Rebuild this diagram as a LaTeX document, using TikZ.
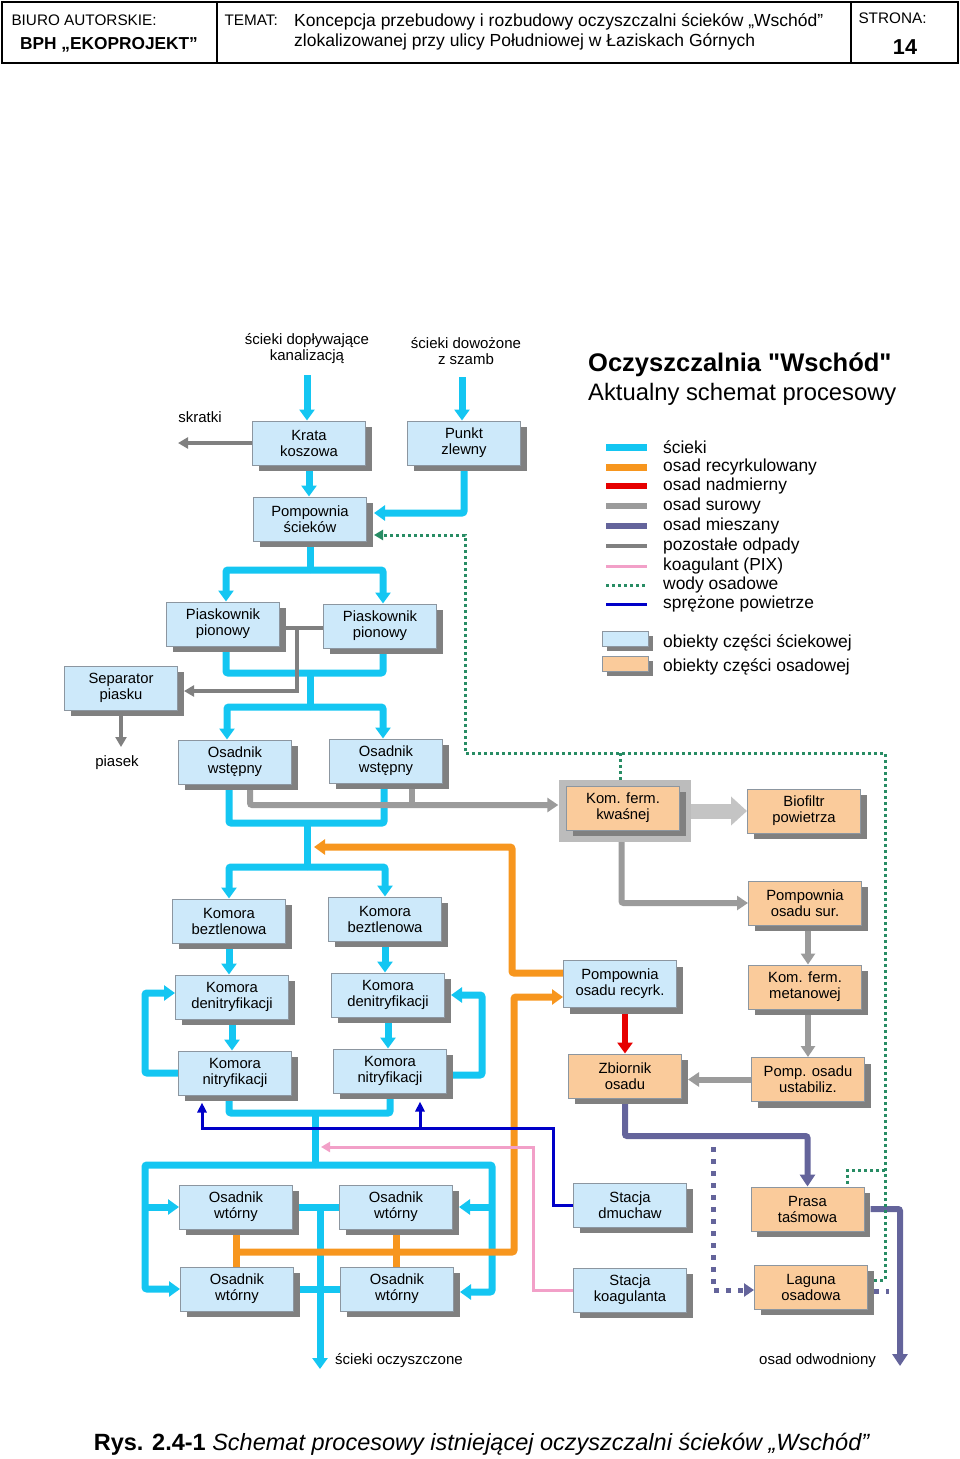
\documentclass[tikz,border=0pt]{standalone}
\usepackage{fontspec}
\setmainfont{Liberation Sans}[Ligatures=TeXOff]
\usetikzlibrary{arrows.meta,shadows,calc}

\definecolor{cflow}{RGB}{20,198,242}
\definecolor{oflow}{RGB}{247,150,30}
\definecolor{rflow}{RGB}{230,0,0}
\definecolor{gflow}{RGB}{155,155,155}
\definecolor{pflow}{RGB}{100,100,155}
\definecolor{tflow}{RGB}{128,128,128}
\definecolor{kflow}{RGB}{242,160,200}
\definecolor{wflow}{RGB}{40,140,100}
\definecolor{bflow}{RGB}{0,0,200}
\definecolor{sfill}{RGB}{205,233,250}
\definecolor{ofill}{RGB}{250,203,155}
\definecolor{shgrey}{RGB}{128,128,128}
\definecolor{edgegrey}{RGB}{140,150,160}
\definecolor{framegrey}{RGB}{188,188,188}
\definecolor{bigarrow}{RGB}{196,196,196}

\newcommand\objfont{\fontsize{14.8}{16}\selectfont}
\newcommand\lblfont{\fontsize{15}{16}\selectfont}
\newcommand\legfont{\fontsize{17.4}{20}\selectfont}

\pgfdeclarelayer{bg}
\pgfsetlayers{bg,main}

\tikzset{
  box/.style={draw=edgegrey, line width=1pt, align=center, font=\objfont, inner sep=1pt},
  shad/.style={drop shadow={shadow xshift=#1, shadow yshift=-#1, fill=shgrey, opacity=1}},
  shad/.default=6pt,
  sobj/.style={box, fill=sfill, minimum width=113pt, minimum height=44pt, shad},
  oobj/.style={box, fill=ofill, minimum width=113pt, minimum height=44pt, shad},
  lbl/.style={font=\lblfont, align=center, inner sep=0pt},
  sline/.style={line width=7pt, color=cflow, rounded corners=2pt},
  sarr/.style={sline, -{Triangle[width=15pt,length=11pt]}},
  oline/.style={line width=7pt, color=oflow, rounded corners=2pt},
  oarr/.style={oline, -{Triangle[width=15pt,length=11pt]}},
  rline/.style={line width=6pt, color=rflow},
  rarr/.style={rline, -{Triangle[width=15pt,length=11pt]}},
  gline/.style={line width=6pt, color=gflow, rounded corners=2pt},
  garr/.style={gline, -{Triangle[width=14pt,length=11pt]}},
  pline/.style={line width=6pt, color=pflow, rounded corners=2pt},
  parr/.style={pline, -{Triangle[width=15pt,length=12pt]}},
  pdot/.style={line width=5pt, color=pflow, dash pattern=on 5pt off 7pt},
  pdarr/.style={pdot, -{Triangle[width=13pt,length=10pt]}},
  tline/.style={line width=3.5pt, color=tflow},
  tarr/.style={tline, -{Triangle[width=11pt,length=10pt]}},
  kline/.style={line width=3pt, color=kflow},
  karr/.style={kline, -{Triangle[width=10pt,length=9pt]}},
  wline/.style={line width=3pt, color=wflow, dash pattern=on 3pt off 3pt},
  warr/.style={wline, -{Triangle[width=10pt,length=9pt]}},
  bline/.style={line width=3pt, color=bflow},
  barr/.style={bline, -{Triangle[width=9pt,length=10pt]}},
  bigarr/.style={line width=15pt, color=bigarrow, -{Triangle[width=28pt,length=16pt]}},
}

\begin{document}
\begin{tikzpicture}[x=1pt,y=-1pt]
\useasboundingbox (0,0) rectangle (960,1459);

% header
\draw[line width=1.5pt] (2,2) rectangle (958,63);
\draw[line width=1.5pt] (217,2) -- (217,63);
\draw[line width=1.5pt] (851,2) -- (851,63);
\node (hbiuro) [anchor=west, font=\fontsize{15.3}{16}\selectfont] at (8,20) {BIURO AUTORSKIE:};
\node (hbph) [font=\fontsize{17.3}{18}\selectfont\bfseries] at (109,45) {BPH „EKOPROJEKT”};
\node (htemat) [anchor=west, font=\fontsize{15.3}{16}\selectfont] at (221,20) {TEMAT:};
\node (htyt) [anchor=north west, align=left, inner sep=0pt, font=\fontsize{17.5}{20}\selectfont] at (294,13)
  {Koncepcja przebudowy i rozbudowy oczyszczalni ścieków „Wschód”\\zlokalizowanej przy ulicy Południowej w Łaziskach Górnych};
\node (hstrona) [anchor=west, font=\fontsize{15.3}{16}\selectfont] at (855,18) {STRONA:};
\node (hnr) [font=\fontsize{21.6}{22}\selectfont\bfseries] at (905,47) {14};

% legenda
\node (tyt1) [anchor=west, inner sep=0pt, font=\fontsize{25.5}{28}\selectfont\bfseries] at (588,365) {Oczyszczalnia "Wschód"};
\node (tyt2) [anchor=west, inner sep=0pt, font=\fontsize{23.8}{26}\selectfont] at (588,394) {Aktualny schemat procesowy};
\foreach \y/\st/\t in {447/sline/ścieki, 467/oline/osad recyrkulowany, 486/rline/osad nadmierny,
    506/gline/osad surowy, 526/pline/osad mieszany, 546/tline/pozostałe odpady,
    566/kline/koagulant (PIX), 585/wline/wody osadowe, 604/bline/sprężone powietrze}{
  \draw[\st] (606,\y) -- (647,\y);
  \node (leg\y) [anchor=west, inner sep=0pt, font=\legfont] at (663,\y) {\t};
}
\node (legs) [box, fill=sfill, minimum width=46pt, minimum height=15pt, shad=4pt] at (625.5,639) {};
\node (lego) [box, fill=ofill, minimum width=46pt, minimum height=15pt, shad=4pt] at (625.5,664) {};
\node (legst) [anchor=west, inner sep=0pt, font=\legfont] at (663,643) {obiekty części ściekowej};
\node (legot) [anchor=west, inner sep=0pt, font=\legfont] at (663,667) {obiekty części osadowej};

% obiekty
\node (krata) [sobj] at (309,443) {Krata\\koszowa};
\node (punkt) [sobj] at (464,443) {Punkt\\zlewny};
\node (pomp) [sobj] at (310,519) {Pompownia\\ścieków};
\node (piaskL) [sobj] at (223,624) {Piaskownik\\pionowy};
\node (piaskR) [sobj] at (380,626) {Piaskownik\\pionowy};
\node (sep) [sobj] at (121,688) {Separator\\piasku};
\node (wstL) [sobj] at (235,762) {Osadnik\\wstępny};
\node (wstR) [sobj] at (386,761) {Osadnik\\wstępny};
\node (beztL) [sobj] at (229,921) {Komora\\beztlenowa};
\node (beztR) [sobj] at (385,919) {Komora\\beztlenowa};
\node (denL) [sobj] at (232,997) {Komora\\denitryfikacji};
\node (denR) [sobj] at (388,995) {Komora\\denitryfikacji};
\node (nitL) [sobj] at (235,1073) {Komora\\nitryfikacji};
\node (nitR) [sobj] at (390,1071) {Komora\\nitryfikacji};
\node (wtUL) [sobj] at (236,1207) {Osadnik\\wtórny};
\node (wtUR) [sobj] at (396,1207) {Osadnik\\wtórny};
\node (wtLL) [sobj] at (237,1289) {Osadnik\\wtórny};
\node (wtLR) [sobj] at (397,1289) {Osadnik\\wtórny};
\node (recyrk) [sobj, minimum height=47pt] at (620,984) {Pompownia\\osadu recyrk.};
\node (dmuch) [sobj] at (630,1205) {Stacja\\dmuchaw};
\node (koag) [sobj] at (630,1290) {Stacja\\koagulanta};
\node (kwasfr) [fill=framegrey, minimum width=132pt, minimum height=62pt] at (624.5,811) {};
\node (kwas) [oobj] at (623,808) {Kom. ferm.\\kwaśnej};
\node (biof) [oobj] at (804,811) {Biofiltr\\powietrza};
\node (sur) [oobj] at (805,903) {Pompownia\\osadu sur.};
\node (metan) [oobj] at (805,987) {Kom. ferm.\\metanowej};
\node (zbior) [oobj] at (625,1076) {Zbiornik\\osadu};
\node (ustab) [oobj] at (808,1079.5) {Pomp. osadu\\ustabiliz.};
\node (prasa) [oobj] at (807.5,1209) {Prasa\\taśmowa};
\node (laguna) [oobj] at (811,1287) {Laguna\\osadowa};

% opisy
\node (lkan) [lbl] at (307,349) {ścieki dopływające\\kanalizacją};
\node (lszamb) [lbl] at (466,351) {ścieki dowożone\\z szamb};
\node (lskr) [lbl] at (200,417) {skratki};
\node (lpiasek) [lbl] at (117,763) {piasek};
\node (lout) [lbl, anchor=west] at (335,1361) {ścieki oczyszczone};
\node (lodw) [lbl, anchor=west] at (759,1361) {osad odwodniony};
\node (cap) at (482,1444) {\fontsize{23.5}{26}\selectfont\textbf{Rys. 2.4-1} \textit{Schemat procesowy istniejącej oczyszczalni ścieków „Wschód”}};

\coordinate (kanin) at (307,375);
\coordinate (szambin) at (462,377);
\coordinate (skr) at (178,443);
\coordinate (j1) at (310,570);
\coordinate (j2) at (310,673);
\coordinate (j3) at (310,707);
\coordinate (j4) at (307,823);
\coordinate (j5) at (307,867);
\coordinate (j6) at (315,1113);
\coordinate (j7) at (315,1165);
\coordinate (xl) at (145,1165);
\coordinate (xr) at (492,1165);
\coordinate (jo) at (320,1207);
\coordinate (cleanend) at (320,1369);
\coordinate (o1) at (512,847);
\coordinate (o2) at (314,847);
\coordinate (o3) at (514,1252);
\coordinate (o4) at (514,997);
\coordinate (t1) at (297,628);
\coordinate (piasekend) at (121,747);
\coordinate (podw) at (900,1366);
\coordinate (pd1) at (713,1147);
\coordinate (lagout) at (889,1291);
\coordinate (gw1) at (885,753);
\coordinate (gw2) at (465,535);
\coordinate (gw3) at (885,1170);
\coordinate (bj1) at (553,1128);
\coordinate (bj2) at (420,1128);
\coordinate (kj1) at (533,1147);
\coordinate (kend) at (321,1147);

\begin{pgfonlayer}{bg}
% scieki
\draw[sarr] (kanin) -- (kanin |- krata.north);
\draw[sarr] (szambin) -- (szambin |- punkt.north);
\draw[sarr] (krata.south) -- (krata.south |- pomp.north);
\draw[sarr] (punkt.south) |- ($(pomp.east)+(7,-6)$);
\draw[sline] (pomp.south) -- (j1);
\draw[sarr] (j1) -| ($(piaskL.north)+(3,0)$);
\draw[sarr] (j1) -| ($(piaskR.north)+(3,0)$);
\draw[sline] ($(piaskL.south)+(3,0)$) |- (j2) -| ($(piaskR.south)+(3,0)$);
\draw[sline] (j2) -- (j3);
\draw[sarr] (j3) -| ($(wstL.north)+(-8,0)$);
\draw[sarr] (j3) -| ($(wstR.north)+(-3,0)$);
\draw[sline] ($(wstL.south)+(-6,0)$) |- (j4) -| ($(wstR.south)+(-2,0)$);
\draw[sline] (j4) -- (j5);
\draw[sarr] (j5) -| (beztL.north);
\draw[sarr] (j5) -| (beztR.north);
\draw[sarr] (beztL.south) -- (beztL.south |- denL.north);
\draw[sarr] (beztR.south) -- (beztR.south |- denR.north);
\draw[sarr] (denL.south) -- (denL.south |- nitL.north);
\draw[sarr] (denR.south) -- (denR.south |- nitR.north);
\draw[sarr] (nitL.west) -- ++(-33,0) |- ($(denL.west)+(0,-4)$);
\draw[sarr] ($(nitR.east)+(6,4)$) -- ++(29,0) |- ($(denR.east)+(6,0)$);
\draw[sline] ($(nitL.south)+(-6,0)$) |- (j6) -| (nitR.south);
\draw[sline] (j6) -- (j7);
\draw[sarr] (j7) -- (xl) |- (wtLL.west);
\draw[sarr] (xl |- wtUL.west) -- (wtUL.west);
\draw[sarr] (j7) -- (xr) |- ($(wtLR.east)+(6,3)$);
\draw[sarr] (xr |- wtUR.east) -- ($(wtUR.east)+(6,0)$);
\draw[sline] (wtUL) -- (wtUR);
\draw[sline] (wtLL) -- (wtLR);
\draw[sarr] (jo) -- (cleanend);
% osad recyrkulowany
\draw[oarr] ($(recyrk.west)+(0,-11)$) -| (o1) -- (o2);
\draw[oline] (wtUL.center) -- (wtUL.center |- wtLL.center);
\draw[oline] (wtUR.center) -- (wtUR.center |- wtLR.center);
\draw[oarr] (wtUL |- o3) -- (o3) -- (o4) -- (o4 -| recyrk.west);
% osad nadmierny
\draw[rarr] (recyrk.south -| zbior.north) -- (zbior.north);
% osad surowy
\draw[garr] ($(wstL.center)+(15,0)$) |- ($(kwasfr.west)+(0,-6)$);
\draw[gline] ($(wstR.center)+(26,0)$) -- ($(wstR.center)+(26,44)$);
\draw[bigarr] (kwasfr.east) -- (biof.west);
\draw[garr] ($(kwasfr.south)+(-3,0)$) |- (sur.west);
\draw[garr] ($(sur.south)+(3,0)$) -- ($(metan.north)+(3,0)$);
\draw[garr] ($(metan.south)+(3,0)$) -- (ustab.north);
\draw[garr] (ustab.west) -- ($(zbior.east)+(6,3.5)$);
% osad mieszany
\draw[parr] (zbior.south) -- ++(0,37.5) -| (prasa.north);
\draw[parr] ($(prasa.east)+(6,0)$) -| (podw);
\draw[pdarr] (pd1) |- ($(laguna.west)+(0,3)$);
\draw[pdot] ($(laguna.east)+(6,4)$) -- (lagout);
% pozostale odpady
\draw[tarr] (krata.west) -- (skr);
\draw[tline] (t1 -| piaskL.center) -- (t1 -| piaskR.center);
\draw[tarr] (t1) |- ($(sep.east)+(6,3)$);
\draw[tarr] (sep.south) -- (piasekend);
% wody osadowe
\draw[warr] ($(laguna.east)+(6,-7)$) -| (gw1) -| (gw2) -- ($(pomp.east)+(7,16)$);
\draw[wline] (gw3) -| ($(prasa.north)+(40,0)$);
\draw[wline] ($(kwasfr.north)+(-4,0)$) -- ($(kwasfr.north)+(-4,-28)$);
% powietrze
\draw[barr] (dmuch.west) -| (bj1) -| ($(nitL.south)+(-33,7)$);
\draw[barr] (bj2) -- ($(nitR.south)+(30,8)$);
% koagulant
\draw[karr] (koag.west) -| (kj1) -- (kend);
\end{pgfonlayer}
\end{tikzpicture}
\end{document}
